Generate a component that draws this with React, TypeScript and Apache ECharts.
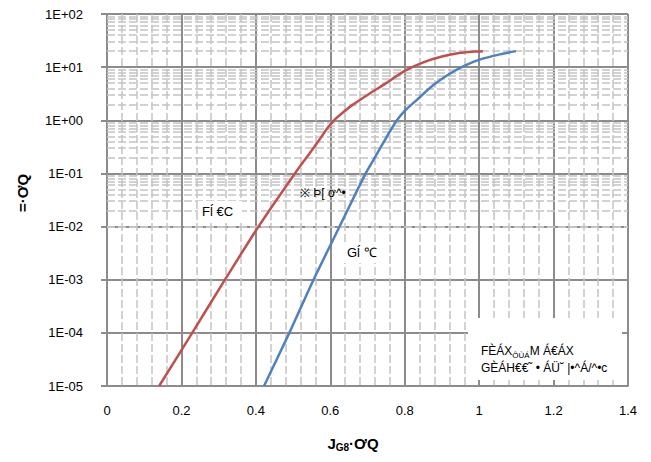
import React, { useEffect, useRef } from "react";
import * as echarts from "echarts";

const redX = [0.14, 0.229, 0.317, 0.407, 0.505, 0.55, 0.573, 0.59, 0.61, 0.63, 0.66, 0.70, 0.75, 0.80, 0.85, 0.90, 0.95, 0.985, 1.01];
const redY = [1e-5, 1e-4, 1e-3, 1e-2, 1e-1, 0.27, 0.455, 0.68, 1.0, 1.33, 1.95, 3.0, 5.0, 8.5, 12.3, 15.8, 18.6, 19.6, 20];
const blueX = [0.422, 0.49, 0.555, 0.625, 0.695, 0.725, 0.747, 0.765, 0.779, 0.80, 0.832, 0.877, 0.922, 0.96, 1.003, 1.056, 1.099];
const blueY = [1e-5, 1e-4, 1e-3, 1e-2, 1e-1, 0.23, 0.43, 0.7, 1.0, 1.5, 2.4, 4.6, 7.6, 10.6, 14, 17.4, 20];

const xTicks = [0, 0.2, 0.4, 0.6, 0.8, 1.0, 1.2, 1.4];
const yDecades = [-5, -4, -3, -2, -1, 0, 1, 2];

const FONT = "'Liberation Sans', Arial, sans-serif";

export default function App() {
  const ref = useRef<HTMLDivElement>(null);
  useEffect(() => {
    if (!ref.current) return;
    const chart = echarts.init(ref.current, undefined, { renderer: "svg" });
    const minorY: number[] = [];
    for (let i = 0; i < yDecades.length - 1; i++) {
      for (let k = 2; k <= 9; k++) minorY.push(k * Math.pow(10, yDecades[i]));
    }
    const fmt = (v: number) => {
      const e = Math.round(Math.log10(v));
      return "1E" + (e >= 0 ? "+" : "-") + String(Math.abs(e)).padStart(2, "0");
    };
    chart.setOption({
      animation: false,
      backgroundColor: "#fff",
      grid: { left: 107, right: 23, top: 14, bottom: 76 },
      xAxis: {
        type: "value",
        min: xTicks[0],
        max: xTicks[xTicks.length - 1],
        interval: 0.2,
        axisLine: { show: true, lineStyle: { color: "#8c8c8c", width: 2 } },
        axisTick: { show: false },
        axisLabel: { color: "#000", fontFamily: FONT, fontSize: 13, margin: 18, formatter: (v: number) => String(Math.round(v * 10) / 10) },
        splitLine: { show: true, lineStyle: { color: "#8c8c8c", width: 2 } },
        minorTick: { show: false, splitNumber: 5 },
        minorSplitLine: { show: true, lineStyle: { color: "#c4c4c4", width: 1.5, type: [8, 3] } },
      },
      yAxis: {
        type: "log",
        logBase: 10,
        min: Math.pow(10, yDecades[0]),
        max: Math.pow(10, yDecades[yDecades.length - 1]),
        splitNumber: 7,
        axisLine: { show: true, lineStyle: { color: "#8c8c8c", width: 2 } },
        axisTick: { show: true, length: 6, lineStyle: { color: "#8c8c8c", width: 2 } },
        axisLabel: { color: "#000", fontFamily: FONT, fontSize: 13, margin: 24, formatter: fmt },
        splitLine: { show: true, lineStyle: { color: "#8c8c8c", width: 2 } },
      },
      series: [
        {
          type: "line",
          data: [],
          z: 1,
          silent: true,
          markLine: {
            silent: true,
            symbol: "none",
            animation: false,
            label: { show: false },
            lineStyle: { color: "#c4c4c4", width: 1.5, type: [8, 3] },
            data: minorY.map((v) => ({ yAxis: v })),
          },
        },
        {
          type: "line",
          data: redX.map((x, i) => [x, redY[i]]),
          showSymbol: false,
          smooth: 0.25,
          z: 5,
          lineStyle: { color: "#C0504D", width: 2.5 },
        },
        {
          type: "line",
          data: blueX.map((x, i) => [x, blueY[i]]),
          showSymbol: false,
          smooth: 0.25,
          z: 5,
          lineStyle: { color: "#4F81BD", width: 2.5 },
        },
      ],
      graphic: [
        { type: "rect", z: 100, shape: { x: 198, y: 201, width: 44, height: 21 }, style: { fill: "#fff" } },
        { type: "text", z: 101, x: 202, y: 211.5, style: { text: "Fĺ €C", font: `13px ${FONT}`, fill: "#000", verticalAlign: "middle" } },
        { type: "text", z: 101, x: 300, y: 193, style: { text: "※ Þ[ ơ^•", font: `12px ${FONT}`, fill: "#000", verticalAlign: "middle" } },
        { type: "rect", z: 100, shape: { x: 343, y: 242, width: 34, height: 21 }, style: { fill: "#fff" } },
        { type: "text", z: 101, x: 347, y: 252.5, style: { text: "Gĺ ℃", font: `13px ${FONT}`, fill: "#000", verticalAlign: "middle" } },
        { type: "rect", z: 100, shape: { x: 468, y: 318, width: 154, height: 62 }, style: { fill: "#fff" } },
        {
          type: "text",
          z: 101,
          x: 481,
          y: 351,
          style: {
            text: "{n|FÈÁX}{s|ÔÙÁ}{n|M Á€ÁX}",
            fill: "#000",
            verticalAlign: "middle",
            rich: {
              n: { fontFamily: FONT, fontSize: 12, lineHeight: 16, verticalAlign: "middle", fill: "#000" },
              s: { fontFamily: FONT, fontSize: 8, lineHeight: 9, verticalAlign: "bottom", fill: "#000" },
            },
          },
        },
        { type: "text", z: 101, x: 481, y: 368, style: { text: "GÈÁH€€˜ • ÁÜ˘ |•^Á/^•c", font: `12px ${FONT}`, fill: "#000", verticalAlign: "middle" } },
        {
          type: "text",
          z: 101,
          x: 353,
          y: 443,
          style: {
            text: "{b|J}{s|G8}{b|·ƠQ}",
            fill: "#000",
            align: "center",
            verticalAlign: "middle",
            rich: {
              b: { fontFamily: FONT, fontSize: 15, fontWeight: "bold", lineHeight: 18, verticalAlign: "middle", fill: "#000" },
              s: { fontFamily: FONT, fontSize: 10, fontWeight: "bold", lineHeight: 11, verticalAlign: "bottom", fill: "#000" },
            },
          },
        },
        { type: "text", z: 101, x: 22, y: 193, rotation: Math.PI / 2, style: { text: "=·ƠQ", font: `bold 15px ${FONT}`, fill: "#000", align: "center", verticalAlign: "middle" } },
      ],
    });
    return () => chart.dispose();
  }, []);
  return <div ref={ref} style={{ position: "fixed", left: 0, top: 0, width: 651, height: 462 }} />;
}
